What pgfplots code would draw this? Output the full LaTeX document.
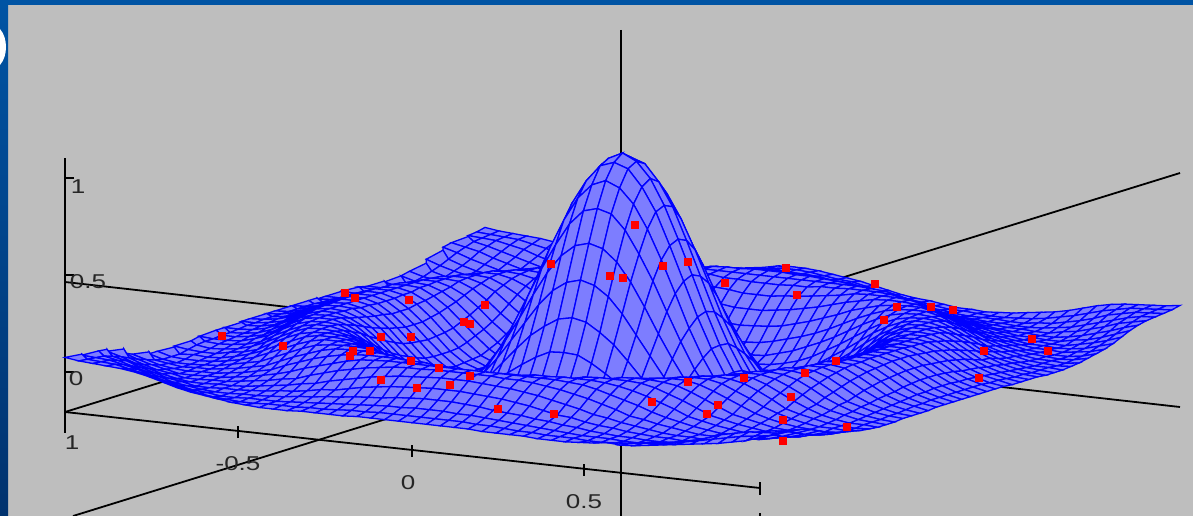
\documentclass[border=0pt]{standalone}
\usepackage{pgfplots}
\pgfplotsset{compat=1.18}
\usepackage{fontspec}
\setmainfont{Liberation Sans}
\definecolor{bgg}{RGB}{190,190,190}
\definecolor{meshb}{RGB}{0,0,255}
\definecolor{band}{RGB}{0,84,164}
\definecolor{bandd}{RGB}{0,50,110}
\newcommand{\lab}[3]{\node[text=black!85,xscale=1.3,font=\fontsize{20}{24}\selectfont,inner sep=0pt] at (axis cs:#1,#2) {#3};}
\begin{document}
\begin{tikzpicture}
\begin{axis}[at={(0pt,0pt)},anchor=south west,scale only axis,width=1193pt,height=516pt,xmin=0,xmax=1193,ymin=0,ymax=516,y dir=reverse,hide axis,clip=true]
\fill[bgg] (axis cs:0,0) rectangle (axis cs:1193,516);
\fill[band] (axis cs:0,0) rectangle (axis cs:1193,5);
\shade[top color=band,bottom color=bandd] (axis cs:0,0) rectangle (axis cs:8,516);
\fill[white] (axis cs:0,29) .. controls (8,38) and (8,56) .. (0,65) -- cycle;
\addplot[black,line width=2pt,no marks] coordinates {(65,158) (65,433)};
\addplot[black,line width=1.8pt,no marks] coordinates {(65,178) (74,178)};
\addplot[black,line width=1.8pt,no marks] coordinates {(65,275) (74,275)};
\addplot[black,line width=1.8pt,no marks] coordinates {(65,372) (74,372)};
\addplot[black,line width=1.8pt,no marks] coordinates {(65,282) (1180,407)};
\addplot[black,line width=1.8pt,no marks] coordinates {(65,412) (760,488)};
\addplot[black,line width=1.8pt,no marks] coordinates {(65,412) (485,282)};
\addplot[black,line width=1.8pt,no marks] coordinates {(73,516) (1180,173)};
\addplot[black,line width=2.2pt,no marks] coordinates {(621,30) (621,516)};
\addplot[black,line width=1.8pt,no marks] coordinates {(238,426) (238,438)};
\addplot[black,line width=1.8pt,no marks] coordinates {(412,445) (412,457)};
\addplot[black,line width=1.8pt,no marks] coordinates {(584,464) (584,476)};
\addplot[black,line width=1.8pt,no marks] coordinates {(760,482) (760,495)};
\addplot[black,line width=1.8pt,no marks] coordinates {(760,513) (760,516)};
\lab{78}{187}{1}
\lab{88}{282}{0.5}
\lab{76}{379}{0}
\lab{72}{443}{1}
\lab{238}{464}{-0.5}
\lab{408}{483}{0}
\lab{584}{502}{0.5}
\end{axis}
\begin{axis}[at={(622.5pt,168pt)},anchor=origin,x={(347.5pt,-39pt)},y={(210pt,65pt)},z={(0pt,195pt)},hide axis,xmin=-1,xmax=1,ymin=-1,ymax=1,zmin=-0.25,zmax=1,clip=false,
colormap={flatc}{rgb255(0cm)=(125,125,255); rgb255(1cm)=(125,125,255)}]
\addplot3[surf,shader=faceted,faceted color=meshb,line width=1.3pt,mesh/rows=51,mesh/cols=51]
table[row sep=crcr,header=false,x expr={-1+0.04*mod(\coordindex,51)},y expr={1-0.04*floor(\coordindex/51)},z expr={\thisrowno{0}/200}] {
17\\15\\14\\13\\12\\10\\7\\3\\-1\\-4\\-5\\-7\\-8\\-7\\-7\\-5\\-3\\1\\4\\6\\8\\11\\12\\12\\11\\9\\7\\5\\2\\-1\\-4\\-6\\-7\\-9\\-11\\-11\\-12\\-11\\-10\\-8\\-6\\-4\\-1\\3\\7\\10\\12\\13\\14\\15\\17\\
15\\14\\13\\12\\9\\6\\2\\-2\\-5\\-8\\-9\\-10\\-10\\-8\\-6\\-5\\-3\\1\\4\\6\\9\\11\\13\\13\\12\\10\\8\\7\\4\\0\\-2\\-4\\-6\\-8\\-10\\-10\\-11\\-12\\-12\\-11\\-10\\-8\\-5\\-2\\2\\6\\9\\12\\13\\14\\15\\
14\\13\\12\\9\\6\\1\\-3\\-6\\-9\\-10\\-12\\-11\\-10\\-8\\-7\\-5\\-3\\1\\4\\6\\9\\11\\13\\13\\13\\12\\10\\8\\6\\2\\0\\-2\\-4\\-7\\-8\\-10\\-11\\-11\\-11\\-12\\-12\\-10\\-9\\-6\\-3\\1\\6\\9\\12\\13\\14\\
13\\12\\9\\5\\1\\-3\\-7\\-9\\-11\\-12\\-12\\-11\\-10\\-8\\-6\\-3\\-1\\2\\5\\8\\10\\12\\14\\15\\16\\15\\14\\12\\9\\6\\4\\2\\-1\\-3\\-6\\-7\\-9\\-10\\-11\\-11\\-12\\-12\\-11\\-9\\-7\\-3\\1\\5\\9\\12\\13\\
12\\9\\6\\1\\-3\\-7\\-9\\-12\\-12\\-11\\-11\\-10\\-9\\-6\\-4\\-2\\2\\4\\8\\11\\14\\16\\18\\19\\19\\19\\18\\17\\15\\13\\10\\8\\4\\1\\-1\\-4\\-6\\-7\\-9\\-10\\-11\\-11\\-12\\-12\\-9\\-7\\-3\\1\\6\\9\\12\\
10\\6\\1\\-3\\-7\\-10\\-12\\-12\\-11\\-11\\-10\\-8\\-6\\-4\\-1\\2\\7\\10\\14\\17\\19\\22\\23\\24\\25\\24\\24\\23\\21\\20\\17\\15\\11\\8\\5\\1\\-1\\-4\\-6\\-8\\-10\\-11\\-11\\-12\\-12\\-10\\-7\\-3\\1\\6\\10\\
7\\2\\-3\\-7\\-9\\-12\\-12\\-11\\-11\\-9\\-7\\-5\\-2\\0\\5\\9\\13\\17\\20\\22\\25\\26\\26\\27\\27\\27\\26\\26\\25\\24\\23\\21\\19\\16\\13\\9\\5\\0\\-2\\-5\\-7\\-9\\-11\\-11\\-12\\-12\\-9\\-7\\-3\\2\\7\\
3\\-2\\-6\\-9\\-12\\-12\\-11\\-11\\-9\\-7\\-4\\-1\\3\\8\\12\\16\\20\\23\\24\\25\\25\\25\\25\\25\\25\\25\\25\\25\\25\\25\\25\\25\\24\\23\\20\\16\\12\\8\\3\\-1\\-4\\-7\\-9\\-11\\-11\\-12\\-12\\-9\\-6\\-2\\3\\
-1\\-5\\-9\\-11\\-12\\-11\\-11\\-9\\-7\\-4\\-1\\5\\10\\15\\19\\22\\24\\25\\25\\25\\24\\24\\22\\22\\21\\21\\21\\22\\22\\24\\24\\25\\25\\25\\24\\22\\19\\15\\10\\5\\-1\\-4\\-7\\-9\\-11\\-11\\-12\\-11\\-9\\-5\\-1\\
-4\\-8\\-10\\-12\\-11\\-11\\-9\\-7\\-4\\-1\\5\\11\\16\\21\\24\\25\\25\\25\\24\\21\\19\\17\\15\\14\\12\\12\\12\\14\\15\\17\\19\\21\\24\\25\\25\\25\\24\\21\\16\\11\\5\\-1\\-4\\-7\\-9\\-11\\-11\\-12\\-10\\-8\\-4\\
-6\\-10\\-12\\-12\\-11\\-10\\-7\\-4\\-1\\5\\11\\17\\22\\24\\25\\25\\24\\21\\18\\14\\10\\7\\4\\2\\0\\0\\0\\2\\4\\7\\10\\14\\18\\21\\24\\25\\25\\24\\22\\17\\11\\5\\-1\\-4\\-7\\-10\\-11\\-12\\-12\\-10\\-6\\
-6\\-10\\-11\\-11\\-10\\-8\\-5\\-1\\5\\11\\17\\22\\25\\25\\24\\22\\18\\14\\8\\3\\-2\\-6\\-10\\-12\\-13\\-14\\-13\\-12\\-10\\-6\\-2\\3\\8\\14\\18\\22\\24\\25\\25\\22\\17\\11\\5\\-1\\-5\\-8\\-10\\-11\\-12\\-11\\-8\\
-7\\-10\\-9\\-10\\-9\\-6\\-2\\3\\10\\16\\22\\25\\25\\24\\21\\16\\10\\3\\-4\\-10\\-15\\-19\\-23\\-26\\-27\\-27\\-27\\-26\\-23\\-19\\-15\\-10\\-4\\3\\10\\16\\21\\24\\25\\25\\22\\16\\10\\3\\-2\\-6\\-9\\-11\\-11\\-12\\-10\\
-6\\-8\\-9\\-9\\-6\\-4\\0\\8\\15\\21\\24\\25\\24\\21\\15\\8\\0\\-8\\-15\\-21\\-27\\-31\\-35\\-36\\-37\\-38\\-37\\-36\\-35\\-31\\-27\\-21\\-15\\-8\\0\\8\\15\\21\\24\\25\\24\\21\\15\\8\\0\\-4\\-7\\-10\\-11\\-12\\-11\\
-6\\-6\\-8\\-7\\-5\\-1\\5\\12\\19\\24\\25\\24\\21\\15\\7\\-2\\-11\\-19\\-27\\-33\\-37\\-40\\-41\\-42\\-42\\-43\\-42\\-42\\-41\\-40\\-37\\-33\\-27\\-19\\-11\\-2\\7\\15\\21\\24\\25\\24\\19\\12\\5\\-1\\-6\\-9\\-11\\-11\\-12\\
-4\\-5\\-6\\-5\\-3\\1\\9\\16\\22\\25\\25\\22\\16\\8\\-2\\-12\\-21\\-30\\-36\\-40\\-42\\-43\\-43\\-42\\-41\\-41\\-41\\-42\\-43\\-43\\-42\\-40\\-36\\-30\\-21\\-12\\-2\\8\\16\\22\\25\\25\\22\\16\\9\\1\\-4\\-7\\-10\\-11\\-12\\
-4\\-5\\-5\\-4\\0\\5\\13\\20\\24\\25\\24\\18\\10\\0\\-11\\-21\\-30\\-37\\-41\\-43\\-42\\-40\\-37\\-34\\-31\\-31\\-31\\-34\\-37\\-40\\-42\\-43\\-41\\-37\\-30\\-21\\-11\\0\\10\\18\\24\\25\\24\\20\\13\\5\\-1\\-6\\-9\\-11\\-12\\
-3\\-4\\-4\\-2\\1\\8\\16\\23\\25\\25\\21\\14\\3\\-8\\-19\\-30\\-37\\-42\\-43\\-41\\-36\\-30\\-23\\-18\\-13\\-12\\-13\\-18\\-23\\-30\\-36\\-41\\-43\\-42\\-37\\-30\\-19\\-8\\3\\14\\21\\25\\25\\23\\16\\8\\0\\-4\\-8\\-10\\-11\\
-3\\-4\\-3\\-1\\4\\11\\19\\24\\25\\24\\18\\8\\-4\\-15\\-27\\-36\\-41\\-43\\-40\\-34\\-24\\-13\\-3\\6\\13\\14\\13\\6\\-3\\-13\\-24\\-34\\-40\\-43\\-41\\-36\\-27\\-15\\-4\\8\\18\\24\\25\\24\\19\\11\\3\\-3\\-7\\-10\\-11\\
-3\\-3\\-2\\1\\7\\14\\21\\25\\25\\21\\14\\3\\-10\\-21\\-33\\-40\\-43\\-41\\-34\\-23\\-7\\9\\24\\35\\44\\47\\44\\35\\24\\9\\-7\\-23\\-34\\-41\\-43\\-40\\-33\\-21\\-10\\3\\14\\21\\25\\25\\21\\14\\6\\-1\\-6\\-9\\-11\\
-3\\-2\\-1\\2\\9\\16\\23\\25\\24\\19\\10\\-2\\-15\\-27\\-37\\-42\\-42\\-36\\-24\\-7\\13\\33\\53\\69\\79\\83\\79\\69\\53\\33\\13\\-7\\-24\\-36\\-42\\-42\\-37\\-27\\-15\\-2\\10\\19\\24\\25\\23\\16\\8\\0\\-5\\-8\\-11\\
-2\\-2\\0\\3\\11\\18\\24\\25\\24\\17\\7\\-6\\-19\\-31\\-40\\-43\\-40\\-30\\-13\\9\\33\\59\\83\\102\\114\\118\\114\\102\\83\\59\\33\\9\\-13\\-30\\-40\\-43\\-40\\-31\\-19\\-6\\7\\17\\24\\25\\24\\18\\10\\1\\-4\\-8\\-10\\
-2\\-1\\1\\5\\12\\19\\24\\25\\22\\15\\4\\-10\\-23\\-35\\-41\\-43\\-37\\-23\\-3\\24\\53\\83\\109\\132\\147\\151\\147\\132\\109\\83\\53\\24\\-3\\-23\\-37\\-43\\-41\\-35\\-23\\-10\\4\\15\\22\\25\\24\\19\\11\\3\\-3\\-7\\-10\\
-2\\-1\\1\\6\\13\\20\\25\\25\\22\\14\\2\\-12\\-26\\-36\\-42\\-42\\-34\\-18\\6\\35\\69\\102\\132\\156\\171\\177\\171\\156\\132\\102\\69\\35\\6\\-18\\-34\\-42\\-42\\-36\\-26\\-12\\2\\14\\22\\25\\25\\20\\12\\4\\-3\\-7\\-10\\
-2\\-1\\2\\7\\14\\21\\25\\25\\21\\12\\0\\-13\\-27\\-37\\-42\\-41\\-31\\-13\\13\\44\\79\\114\\147\\171\\188\\193\\188\\171\\147\\114\\79\\44\\13\\-13\\-31\\-41\\-42\\-37\\-27\\-13\\0\\12\\21\\25\\25\\21\\13\\5\\-2\\-7\\-10\\
-2\\-1\\2\\7\\14\\21\\25\\25\\21\\12\\0\\-14\\-27\\-38\\-43\\-41\\-31\\-12\\14\\47\\83\\118\\151\\177\\193\\200\\193\\177\\151\\118\\83\\47\\14\\-12\\-31\\-41\\-43\\-38\\-27\\-14\\0\\12\\21\\25\\25\\21\\13\\5\\-2\\-7\\-10\\
-2\\-1\\2\\7\\14\\21\\25\\25\\21\\12\\0\\-13\\-27\\-37\\-42\\-41\\-31\\-13\\13\\44\\79\\114\\147\\171\\188\\193\\188\\171\\147\\114\\79\\44\\13\\-13\\-31\\-41\\-42\\-37\\-27\\-13\\0\\12\\21\\25\\25\\21\\13\\5\\-2\\-7\\-10\\
-2\\-1\\1\\6\\13\\20\\25\\25\\22\\14\\2\\-12\\-26\\-36\\-42\\-42\\-34\\-18\\6\\35\\69\\102\\132\\156\\171\\177\\171\\156\\132\\102\\69\\35\\6\\-18\\-34\\-42\\-42\\-36\\-26\\-12\\2\\14\\22\\25\\25\\20\\12\\4\\-3\\-7\\-10\\
-2\\-1\\1\\5\\12\\19\\24\\25\\22\\15\\4\\-10\\-23\\-35\\-41\\-43\\-37\\-23\\-3\\24\\53\\83\\109\\132\\147\\151\\147\\132\\109\\83\\53\\24\\-3\\-23\\-37\\-43\\-41\\-35\\-23\\-10\\4\\15\\22\\25\\24\\19\\11\\3\\-3\\-7\\-10\\
-2\\-2\\0\\3\\11\\18\\24\\25\\24\\17\\7\\-6\\-19\\-31\\-40\\-43\\-40\\-30\\-13\\9\\33\\59\\83\\102\\114\\118\\114\\102\\83\\59\\33\\9\\-13\\-30\\-40\\-43\\-40\\-31\\-19\\-6\\7\\17\\24\\25\\24\\18\\10\\1\\-4\\-8\\-10\\
-3\\-2\\-1\\2\\9\\16\\23\\25\\24\\19\\10\\-2\\-15\\-27\\-37\\-42\\-42\\-36\\-24\\-7\\13\\33\\53\\69\\79\\83\\79\\69\\53\\33\\13\\-7\\-24\\-36\\-42\\-42\\-37\\-27\\-15\\-2\\10\\19\\24\\25\\23\\16\\8\\0\\-5\\-8\\-11\\
-3\\-3\\-2\\1\\7\\14\\21\\25\\25\\21\\14\\3\\-10\\-21\\-33\\-40\\-43\\-41\\-34\\-23\\-7\\9\\24\\35\\44\\47\\44\\35\\24\\9\\-7\\-23\\-34\\-41\\-43\\-40\\-33\\-21\\-10\\3\\14\\21\\25\\25\\21\\14\\6\\-1\\-6\\-9\\-11\\
-3\\-4\\-3\\-1\\4\\11\\19\\24\\25\\24\\18\\8\\-4\\-15\\-27\\-36\\-41\\-43\\-40\\-34\\-24\\-13\\-3\\6\\13\\14\\13\\6\\-3\\-13\\-24\\-34\\-40\\-43\\-41\\-36\\-27\\-15\\-4\\8\\18\\24\\25\\24\\19\\11\\3\\-3\\-7\\-10\\-11\\
-3\\-4\\-4\\-2\\1\\8\\16\\23\\25\\25\\21\\14\\3\\-8\\-19\\-30\\-37\\-42\\-43\\-41\\-36\\-30\\-23\\-18\\-13\\-12\\-13\\-18\\-23\\-30\\-36\\-41\\-43\\-42\\-37\\-30\\-19\\-8\\3\\14\\21\\25\\25\\23\\16\\8\\0\\-4\\-8\\-10\\-11\\
-4\\-5\\-5\\-4\\0\\5\\13\\20\\24\\25\\24\\18\\10\\0\\-11\\-21\\-30\\-37\\-41\\-43\\-42\\-40\\-37\\-34\\-31\\-31\\-31\\-34\\-37\\-40\\-42\\-43\\-41\\-37\\-30\\-21\\-11\\0\\10\\18\\24\\25\\24\\20\\13\\5\\-1\\-6\\-9\\-11\\-12\\
-4\\-5\\-6\\-5\\-3\\1\\9\\16\\22\\25\\25\\22\\16\\8\\-2\\-12\\-21\\-30\\-36\\-40\\-42\\-43\\-43\\-42\\-41\\-41\\-41\\-42\\-43\\-43\\-42\\-40\\-36\\-30\\-21\\-12\\-2\\8\\16\\22\\25\\25\\22\\16\\9\\1\\-4\\-7\\-10\\-11\\-12\\
-6\\-6\\-8\\-7\\-5\\-1\\5\\12\\19\\24\\25\\24\\21\\15\\7\\-2\\-11\\-19\\-27\\-33\\-37\\-40\\-41\\-42\\-42\\-43\\-42\\-42\\-41\\-40\\-37\\-33\\-27\\-19\\-11\\-2\\7\\15\\21\\24\\25\\24\\19\\12\\5\\-1\\-6\\-9\\-11\\-11\\-12\\
-6\\-8\\-9\\-9\\-6\\-4\\0\\8\\15\\21\\24\\25\\24\\21\\15\\8\\0\\-8\\-15\\-21\\-27\\-31\\-35\\-36\\-37\\-38\\-37\\-36\\-35\\-31\\-27\\-21\\-15\\-8\\0\\8\\15\\21\\24\\25\\24\\21\\15\\8\\0\\-4\\-7\\-10\\-11\\-12\\-11\\
-7\\-10\\-9\\-10\\-9\\-6\\-2\\3\\10\\16\\22\\25\\25\\24\\21\\16\\10\\3\\-4\\-10\\-15\\-19\\-23\\-26\\-27\\-27\\-27\\-26\\-23\\-19\\-15\\-10\\-4\\3\\10\\16\\21\\24\\25\\25\\22\\16\\10\\3\\-2\\-6\\-9\\-11\\-11\\-12\\-10\\
-6\\-10\\-11\\-11\\-10\\-8\\-5\\-1\\5\\11\\17\\22\\25\\25\\24\\22\\18\\14\\8\\3\\-2\\-6\\-10\\-12\\-13\\-14\\-13\\-12\\-10\\-6\\-2\\3\\8\\14\\18\\22\\24\\25\\25\\22\\17\\11\\5\\-1\\-5\\-8\\-10\\-11\\-12\\-11\\-8\\
-6\\-10\\-12\\-12\\-11\\-10\\-7\\-4\\-1\\5\\11\\17\\22\\24\\25\\25\\24\\21\\18\\14\\10\\7\\4\\2\\0\\0\\0\\2\\4\\7\\10\\14\\18\\21\\24\\25\\25\\24\\22\\17\\11\\5\\-1\\-4\\-7\\-10\\-11\\-12\\-12\\-10\\-6\\
-4\\-8\\-10\\-12\\-11\\-11\\-9\\-7\\-4\\-1\\5\\11\\16\\21\\24\\25\\25\\25\\24\\21\\19\\17\\15\\14\\12\\12\\12\\14\\15\\17\\19\\21\\24\\25\\25\\25\\24\\21\\16\\11\\5\\-1\\-4\\-7\\-9\\-11\\-11\\-12\\-10\\-8\\-4\\
-1\\-5\\-9\\-11\\-12\\-11\\-11\\-9\\-7\\-4\\-1\\5\\10\\15\\19\\22\\24\\25\\25\\25\\24\\24\\22\\22\\21\\21\\21\\22\\22\\24\\24\\25\\25\\25\\24\\22\\19\\15\\10\\5\\-1\\-4\\-7\\-9\\-11\\-11\\-12\\-11\\-9\\-5\\-1\\
3\\-2\\-6\\-9\\-12\\-12\\-11\\-11\\-9\\-7\\-4\\-1\\3\\8\\12\\16\\20\\23\\24\\25\\25\\25\\25\\25\\25\\25\\25\\25\\25\\25\\25\\25\\24\\23\\20\\16\\12\\8\\3\\-1\\-4\\-7\\-9\\-11\\-11\\-12\\-12\\-9\\-6\\-2\\3\\
7\\2\\-3\\-7\\-9\\-12\\-12\\-11\\-11\\-9\\-7\\-5\\-2\\0\\5\\9\\13\\16\\19\\21\\23\\24\\24\\25\\25\\25\\25\\25\\24\\24\\23\\21\\19\\16\\13\\9\\5\\0\\-2\\-5\\-7\\-9\\-11\\-11\\-12\\-12\\-9\\-7\\-3\\2\\7\\
10\\6\\1\\-3\\-7\\-10\\-12\\-12\\-11\\-11\\-10\\-8\\-6\\-4\\-1\\1\\5\\8\\11\\14\\16\\18\\19\\20\\21\\21\\21\\20\\19\\18\\16\\14\\11\\8\\5\\1\\-1\\-4\\-6\\-8\\-10\\-11\\-11\\-12\\-12\\-10\\-7\\-3\\1\\6\\10\\
12\\9\\6\\1\\-3\\-7\\-9\\-12\\-12\\-11\\-11\\-10\\-9\\-7\\-6\\-4\\-1\\0\\3\\6\\8\\10\\11\\12\\13\\13\\13\\12\\11\\10\\8\\6\\3\\0\\-1\\-4\\-6\\-7\\-9\\-10\\-11\\-11\\-12\\-12\\-9\\-7\\-3\\1\\6\\9\\12\\
13\\12\\9\\5\\1\\-3\\-7\\-9\\-11\\-12\\-12\\-11\\-11\\-10\\-9\\-7\\-6\\-4\\-3\\-1\\0\\1\\3\\4\\5\\5\\5\\4\\3\\1\\0\\-1\\-3\\-4\\-6\\-7\\-9\\-10\\-11\\-11\\-12\\-12\\-11\\-9\\-7\\-3\\1\\5\\9\\12\\13\\
14\\13\\12\\9\\6\\1\\-3\\-6\\-9\\-10\\-12\\-12\\-11\\-11\\-11\\-10\\-9\\-8\\-7\\-6\\-5\\-4\\-3\\-3\\-2\\-2\\-2\\-3\\-3\\-4\\-5\\-6\\-7\\-8\\-9\\-10\\-11\\-11\\-11\\-12\\-12\\-10\\-9\\-6\\-3\\1\\6\\9\\12\\13\\14\\
15\\14\\13\\12\\9\\6\\2\\-2\\-5\\-8\\-10\\-11\\-12\\-12\\-11\\-11\\-11\\-10\\-10\\-9\\-8\\-8\\-7\\-7\\-7\\-7\\-7\\-7\\-7\\-8\\-8\\-9\\-10\\-10\\-11\\-11\\-11\\-12\\-12\\-11\\-10\\-8\\-7\\-5\\-2\\1\\4\\7\\10\\12\\14\\
17\\15\\14\\13\\12\\10\\7\\3\\-1\\-4\\-6\\-8\\-10\\-11\\-12\\-12\\-12\\-11\\-11\\-11\\-11\\-10\\-10\\-10\\-10\\-10\\-10\\-10\\-10\\-10\\-11\\-11\\-11\\-11\\-12\\-12\\-12\\-11\\-10\\-8\\-9\\-8\\-6\\-4\\-2\\0\\2\\4\\7\\10\\15\\
};
\end{axis}
\begin{axis}[at={(0pt,0pt)},anchor=south west,scale only axis,width=1193pt,height=516pt,xmin=0,xmax=1193,ymin=0,ymax=516,y dir=reverse,hide axis,clip=true]
\addplot[only marks,mark=square*,mark size=3.4pt,mark options={fill=red,draw=red,line width=0pt},red] coordinates {
(222,336) (283,346) (345,293) (355,298) (409,300) (485,305) (464,322) (470,324) (381,337) (411,337)
(370,351) (353,351) (350,356) (411,361) (439,368) (381,380) (417,388) (450,385) (470,376) (498,409)
(554,414) (652,402) (688,382) (744,378) (805,373) (836,361) (791,397) (718,405) (707,414) (783,420)
(783,441) (847,427) (551,264) (635,225) (610,276) (623,278) (663,266) (688,262) (725,283) (786,268)
(797,295) (875,284) (897,307) (884,320) (931,307) (953,310) (984,351) (1032,339) (1048,351) (979,378)};
\end{axis}
\end{tikzpicture}
\end{document}
